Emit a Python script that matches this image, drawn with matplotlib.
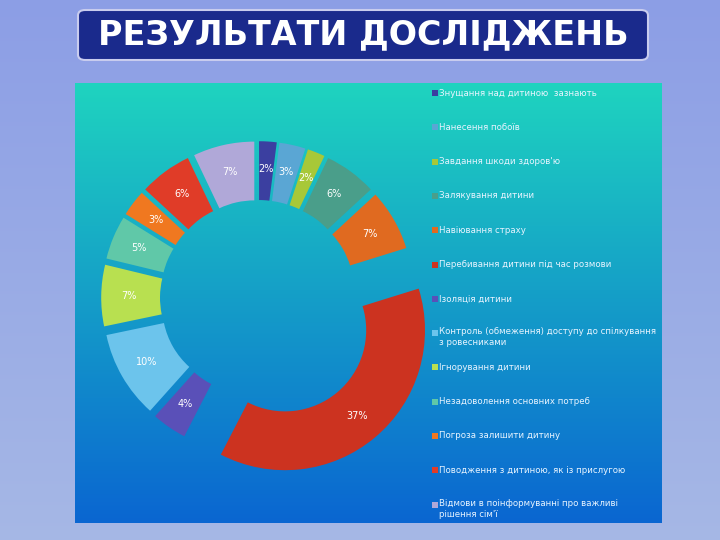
import matplotlib
matplotlib.use("Agg")
import matplotlib.pyplot as plt
import numpy as np
from matplotlib.patches import FancyBboxPatch, Rectangle

labels = ["Знущання над дитиною  зазнають", "Нанесення побоїв", "Завдання шкоди здоров'ю",
          "Залякування дитини", "Навіювання страху", "Перебивання дитини під час розмови",
          "Ізоляція дитини", "Контроль (обмеження) доступу до спілкування\nз ровесниками",
          "Ігнорування дитини", "Незадоволення основних потреб", "Погроза залишити дитину",
          "Поводження з дитиною, як із прислугою", "Відмови в поінформуванні про важливі\nрішення сім'ї"]
values = [2, 3, 2, 6, 7, 37, 4, 10, 7, 5, 3, 6, 7]
colors = ["#3b3fa0", "#5aa6d4", "#a8c838", "#4a9e8a", "#e06a20", "#cc3320", "#5a50b8",
          "#6cc4ec", "#b8e050", "#60c8a8", "#f07820", "#e03c28", "#b0a8d8"]

fig = plt.figure(figsize=(7.2, 5.4), dpi=100)

# background gradient
bg = fig.add_axes([0, 0, 1, 1])
g = np.linspace(0, 1, 256).reshape(-1, 1)
bg.imshow(np.dstack([0.55 + 0.1*g, 0.62 + 0.1*g, 0.9 + 0*g]), aspect="auto", extent=[0, 1, 0, 1])
# plot area gradient (teal top -> blue bottom)
top = np.array([0.12, 0.83, 0.75])
bot = np.array([0.04, 0.40, 0.82])
grad = top + (bot - top) * g[..., None]
bg.imshow(grad, aspect="auto", extent=[75/720, 662/720, 1-523/540, 1-83/540])
bg.set_xlim(0, 1); bg.set_ylim(0, 1); bg.axis("off")

# title box
bg.add_patch(FancyBboxPatch((78/720, 1-60/540), 570/720, 50/540,
                            boxstyle="round,pad=0,rounding_size=0.01",
                            fc="#1a2a8c", ec="#c8ccee", lw=1.5))
bg.text(363/720, 1-35/540, "РЕЗУЛЬТАТИ ДОСЛІДЖЕНЬ", color="white", fontsize=24,
        fontweight="bold", ha="center", va="center")

# donut
ax = fig.add_axes([(258-175)/720, 1-(298+175)/540, 350/720, 350/540])
explode = [0.12] * len(values)
explode[5] = 0.3
wedges, texts = ax.pie(values, colors=colors, startangle=90, counterclock=False,
                       explode=explode, radius=1.0, wedgeprops=dict(width=0.42),
                       labels=[f"{v}%" for v in values], labeldistance=0.8)
for t in texts:
    t.set_color("white"); t.set_fontsize(7); t.set_ha("center"); t.set_va("center")
ax.set_xlim(-1.25, 1.25); ax.set_ylim(-1.25, 1.25)
ax.set_aspect("equal"); ax.axis("off")

# legend
y0, dy = 93, 34.3
for i, (lab, c) in enumerate(zip(labels, colors)):
    y = 1 - (y0 + i*dy)/540
    bg.add_patch(Rectangle((432/720, y - 3/540), 6/720, 6/540, fc=c, ec="none"))
    if "\n" in lab:
        bg.text(439/720, y + 6/540, lab, color="#e8f4ff", fontsize=6.2, va="top", ha="left",
                linespacing=1.3)
    else:
        bg.text(439/720, y, lab, color="#e8f4ff", fontsize=6.2, va="center", ha="left")

fig.savefig("out.png", dpi=100)
